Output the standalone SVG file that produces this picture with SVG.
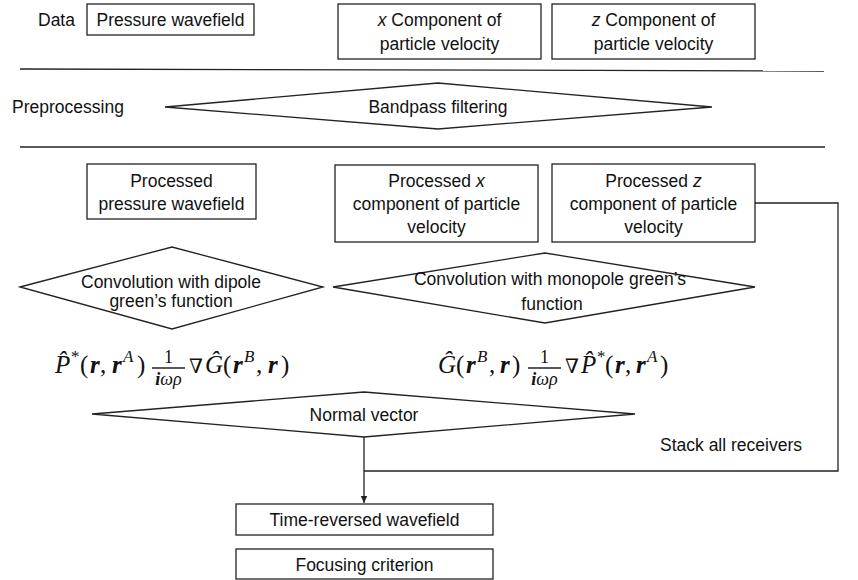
<svg xmlns="http://www.w3.org/2000/svg" width="858" height="580" viewBox="0 0 858 580">
<style>
.t{font-family:"Liberation Sans",Arial,sans-serif;font-size:17.5px;fill:#111;text-anchor:middle}
.ts{font-family:"Liberation Sans",Arial,sans-serif;font-size:17.5px;fill:#111}
.box{fill:#fff;stroke:#222;stroke-width:1.3}
.ln{fill:none;stroke:#222;stroke-width:1.3}
.m{font-family:"Liberation Serif","DejaVu Serif",serif;font-size:25px;fill:#111}
.mi{font-style:italic}
.mb{font-style:italic;font-weight:bold}
.sup{font-size:17px}
.fr{font-size:18px}
.nab{font-family:"DejaVu Serif",serif;font-size:20px}
</style>
<defs>
<marker id="ah" markerWidth="8" markerHeight="8" refX="7" refY="4" orient="auto" markerUnits="userSpaceOnUse">
<path d="M0,0.8 L7,4 L0,7.2 Z" fill="#222"/>
</marker>
</defs>

<g id="separators">
<line class="ln" x1="20" y1="69" x2="824" y2="71"/>
<line class="ln" x1="20" y1="147" x2="825" y2="147"/>
</g>

<g id="row-labels">
<text class="ts" x="38" y="26">Data</text>
<text class="ts" x="12" y="113">Preprocessing</text>
</g>

<g id="pressure-wavefield">
<rect class="box" x="87" y="4" width="167" height="31"/>
<text class="t" x="170.5" y="26">Pressure wavefield</text>
</g>

<g id="x-component">
<rect class="box" x="338" y="4" width="203" height="55"/>
<text class="t" x="439.5" y="26"><tspan font-style="italic">x</tspan> Component of</text>
<text class="t" x="439.5" y="50">particle velocity</text>
</g>

<g id="z-component">
<rect class="box" x="552" y="4" width="203" height="55"/>
<text class="t" x="653.5" y="26"><tspan font-style="italic">z</tspan> Component of</text>
<text class="t" x="653.5" y="50">particle velocity</text>
</g>

<g id="bandpass">
<polygon class="box" points="165,107 438,83 712,107 438,129"/>
<text class="t" x="438" y="113">Bandpass filtering</text>
</g>

<g id="processed-pressure">
<rect class="box" x="87" y="164" width="169" height="55"/>
<text class="t" x="171.5" y="187">Processed</text>
<text class="t" x="171.5" y="210">pressure wavefield</text>
</g>

<g id="processed-x">
<rect class="box" x="335" y="165" width="203" height="77"/>
<text class="t" x="436.5" y="187">Processed <tspan font-style="italic">x</tspan></text>
<text class="t" x="436.5" y="210">component of particle</text>
<text class="t" x="436.5" y="233">velocity</text>
</g>

<g id="processed-z">
<rect class="box" x="552" y="164" width="203" height="78"/>
<text class="t" x="653.5" y="187">Processed <tspan font-style="italic">z</tspan></text>
<text class="t" x="653.5" y="210">component of particle</text>
<text class="t" x="653.5" y="233">velocity</text>
</g>

<g id="dipole">
<polygon class="box" points="20,287 172,247 323,287 172,329"/>
<text class="t" x="171" y="288">Convolution with dipole</text>
<text class="t" x="171" y="307">green’s function</text>
</g>

<g id="monopole">
<polygon class="box" points="333,287 545,253 755,287 545,323"/>
<text class="t" x="550" y="285">Convolution with monopole green’s</text>
<text class="t" x="552" y="310">function</text>
</g>

<g id="formula-left">
<text class="m" y="373"><tspan class="mi" x="55">P̂</tspan><tspan class="sup" x="71" y="362">*</tspan><tspan x="80" y="373">(</tspan><tspan class="mb" x="90">r</tspan><tspan x="100">,</tspan><tspan class="mb" x="112">r</tspan><tspan class="mi sup" x="123" y="362">A</tspan><tspan x="137" y="373">)</tspan></text>
<text class="m fr" x="168.5" y="363" text-anchor="middle">1</text>
<line class="ln" x1="152" y1="368" x2="185" y2="368" stroke-width="1"/>
<text class="m fr" x="168.5" y="385" text-anchor="middle"><tspan class="mb">i</tspan><tspan class="mi">ωρ</tspan></text>
<text class="m" y="373"><tspan class="nab" x="189">∇</tspan><tspan class="mi" x="205">Ĝ</tspan><tspan x="223">(</tspan><tspan class="mb" x="233">r</tspan><tspan class="mi sup" x="244" y="362">B</tspan><tspan x="256" y="373">,</tspan><tspan class="mb" x="268">r</tspan><tspan x="281">)</tspan></text>
</g>

<g id="formula-right">
<text class="m" y="373"><tspan class="mi" x="438">Ĝ</tspan><tspan x="456">(</tspan><tspan class="mb" x="466">r</tspan><tspan class="mi sup" x="477" y="362">B</tspan><tspan x="489" y="373">,</tspan><tspan class="mb" x="500">r</tspan><tspan x="512">)</tspan></text>
<text class="m fr" x="544.5" y="363" text-anchor="middle">1</text>
<line class="ln" x1="528" y1="368" x2="561" y2="368" stroke-width="1"/>
<text class="m fr" x="544.5" y="385" text-anchor="middle"><tspan class="mb">i</tspan><tspan class="mi">ωρ</tspan></text>
<text class="m" y="373"><tspan class="nab" x="565">∇</tspan><tspan class="mi" x="581">P̂</tspan><tspan class="sup" x="597" y="362">*</tspan><tspan x="605" y="373">(</tspan><tspan class="mb" x="615">r</tspan><tspan x="625">,</tspan><tspan class="mb" x="636">r</tspan><tspan class="mi sup" x="647" y="362">A</tspan><tspan x="660" y="373">)</tspan></text>
</g>

<g id="normal-vector">
<polygon class="box" points="92,414 364,392 635,414 364,437"/>
<text class="t" x="364" y="421">Normal vector</text>
</g>

<g id="stack-label">
<text class="ts" x="660" y="451">Stack all receivers</text>
</g>

<g id="time-reversed">
<rect class="box" x="236" y="504" width="257" height="31"/>
<text class="t" x="364.5" y="526">Time-reversed wavefield</text>
</g>

<g id="focusing">
<rect class="box" x="236" y="549" width="257" height="30"/>
<text class="t" x="364.5" y="571">Focusing criterion</text>
</g>

<g id="connectors">
<polyline class="ln" points="755,203 838,203 838,471 364,471"/>
<line class="ln" x1="364" y1="437" x2="364" y2="503" marker-end="url(#ah)"/>
</g>
</svg>
